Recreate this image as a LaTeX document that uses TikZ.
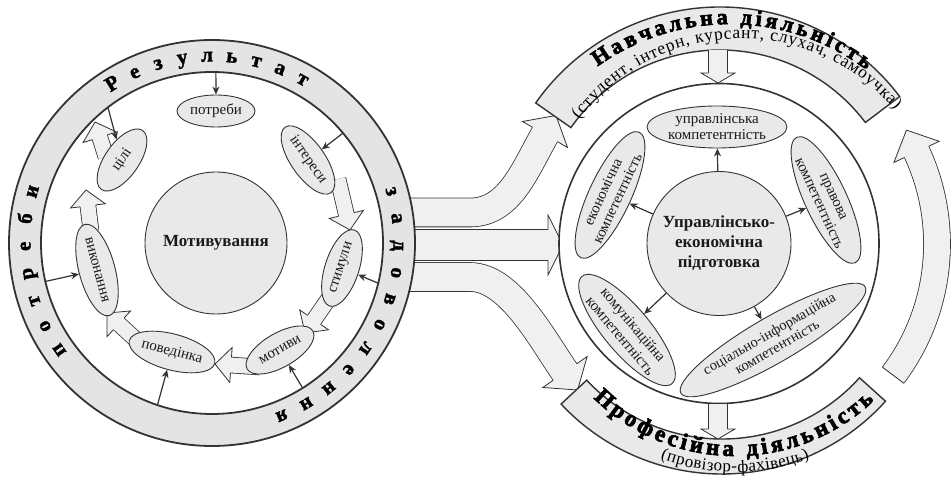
\documentclass[tikz,border=0pt]{standalone}
\usepackage{fontspec}
\setmainfont{Liberation Serif}
\newfontfamily\heavyfont{Liberation Serif}[BoldFeatures={FakeBold=1.6}]
\newfontfamily\blackfont{Liberation Serif}[BoldFeatures={FakeBold=3}]
\usetikzlibrary{shapes.geometric,arrows.meta,calc,decorations.text}
\definecolor{lineC}{HTML}{333333}
\definecolor{fillC}{HTML}{E9E9E9}
\definecolor{ringC}{HTML}{E4E4E4}
\definecolor{arrC}{HTML}{F0F0F0}
\definecolor{txtC}{HTML}{1A1A1A}
\newcommand\hollowhead[4]{%
  \fill[arrC] ($(#1)!#4!90:(#2)$) -- (#2) -- ($(#1)!#4!-90:(#2)$) -- cycle;
  \draw[aline] ($(#1)!#3!90:(#2)$) -- ($(#1)!#4!90:(#2)$) -- (#2) -- ($(#1)!#4!-90:(#2)$) -- ($(#1)!#3!-90:(#2)$);}
\newcommand\hollowarrow[6]{%
  \coordinate (hb) at ($(#2)!#3!(#1)$);
  \coordinate (hc) at ($(hb)!0.8pt!(#2)$);
  \draw[aline, double=arrC, double distance=#4] (#1) -- (hc);
  \hollowhead{hb}{#2}{#5}{#6}}
\begin{document}
\begin{tikzpicture}[x=1pt,y=1pt,
  aline/.style={draw=lineC, line width=0.8pt, line join=miter},
  oval/.style={ellipse, draw=lineC, fill=fillC, line width=0.9pt, inner sep=0pt, text=txtC, align=center, font=\fontsize{15}{16}\selectfont},
  thinarr/.style={draw=lineC, line width=1.2pt, -{Stealth[length=8pt,width=7pt]}},
  ringl/.style={anchor=base, inner sep=0pt, text=black, font=\fontsize{21}{21}\selectfont\heavyfont\bfseries},
  band/.style={draw=lineC, fill=fillC, line width=1.4pt},
]
\useasboundingbox (0,0) rectangle (952,479);
\fill[white] (0,0) rectangle (952,479);

\coordinate (L) at (212,236);
\coordinate (R) at (719,235.5);
\coordinate (TB) at (720,247);
\coordinate (BB) at (722,225);
\coordinate (TT) at (729.6,227.9);
\coordinate (TS) at (740.8,239.6);
\coordinate (BT) at (735,225);

% ---- big arrows from left to right
\coordinate (a1s) at (400,266.5);
\coordinate (a1m) at (470,266.5);
\coordinate (a1b) at (545,344.5);
\coordinate (a1t) at ($(a1b)+(60:22pt)$);
\draw[aline, double=arrC, double distance=28pt] (a1s) -- (a1m) .. controls (510,266.5) and ($(a1b)+(240:40pt)$) .. ($(a1b)+(60:0.8pt)$);
\hollowhead{a1b}{a1t}{14.4pt}{26pt}

\coordinate (a2s) at (400,234);
\coordinate (a2t) at (563,234);
\hollowarrow{a2s}{a2t}{15pt}{30pt}{15.4pt}{30pt}

\coordinate (a3s) at (400,202);
\coordinate (a3m) at (470,202);
\coordinate (a3b) at (565,107);
\coordinate (a3t) at ($(a3b)+(-55:22pt)$);
\draw[aline, double=arrC, double distance=28pt] (a3s) -- (a3m) .. controls (510,202) and ($(a3b)+(125:40pt)$) .. ($(a3b)+(-55:0.8pt)$);
\hollowhead{a3b}{a3t}{14.4pt}{27pt}

% ---- left circle
\node[circle, draw=lineC, fill=ringC, line width=1.8pt, minimum size=406pt, inner sep=0pt] (Lout) at (L) {};
\node[circle, draw=lineC, fill=white, line width=1.8pt, minimum size=342pt, inner sep=0pt] (Lin) at (L) {};
\node[circle, draw=lineC, fill=fillC, line width=0.9pt, minimum size=142pt, inner sep=0pt, font=\fontsize{17}{17}\selectfont\bfseries, text=txtC] (Lmid) at (216,236) {Мотивування};

\foreach \ch [count=\i from 0] in {Р,е,з,у,л,ь,т,а,т}{
  \pgfmathsetmacro\ang{122-7.625*\i}
  \node[ringl, rotate=\ang-90] (rw\i) at ($(L)+(\ang:181.5pt)$) {\ch};}
\foreach \ch [count=\i from 0] in {з,а,д,о,в,о,л,е,н,н,я}{
  \pgfmathsetmacro\ang{16-8.4*\i}
  \node[ringl, rotate=\ang-90] (zw\i) at ($(L)+(\ang:181.5pt)$) {\ch};}
\foreach \ch [count=\i from 0] in {п,о,т,р,е,б,и}{
  \pgfmathsetmacro\ang{215-8.5*\i}
  \node[ringl, rotate=\ang-90] (pw\i) at ($(L)+(\ang:181.5pt)$) {\ch};}

% small hollow arrows of the cycle
\coordinate (s1a) at (338,300); \coordinate (s1b) at (350,249);
\hollowarrow{s1a}{s1b}{16pt}{15pt}{7.9pt}{17.5pt}
\coordinate (s2a) at (334,188); \coordinate (s2b) at (305,146);
\hollowarrow{s2a}{s2b}{16pt}{15pt}{7.9pt}{17.5pt}
\coordinate (s3a) at (260,112); \coordinate (s3b) at (215,115);
\hollowarrow{s3a}{s3b}{16pt}{15pt}{7.9pt}{17.5pt}
\coordinate (s4a) at (145,131); \coordinate (s4b) at (107,166);
\hollowarrow{s4a}{s4b}{16pt}{15pt}{7.9pt}{17.5pt}
\coordinate (s5a) at (91,248); \coordinate (s5b) at (86,289);
\hollowarrow{s5a}{s5b}{16pt}{15pt}{7.9pt}{17.5pt}
\coordinate (s6a) at (106,322); \coordinate (s6b) at (95,357);
\hollowarrow{s6a}{s6b}{16pt}{15pt}{7.9pt}{17.5pt}

\node[oval, minimum width=78pt, minimum height=32pt] (pot) at (216,368) {потреби};
\node[oval, minimum width=80pt, minimum height=34pt, rotate=-55] (int) at (308,319) {інтереси};
\node[oval, minimum width=80pt, minimum height=34pt, rotate=72] (stim) at (342,211) {стимули};
\node[oval, minimum width=76pt, minimum height=34pt, rotate=30] (mot) at (280,129) {мотиви};
\node[oval, minimum width=88pt, minimum height=36pt, rotate=-15] (pov) at (172,127) {поведінка};
\node[oval, minimum width=90pt, minimum height=36pt, rotate=-75] (vyk) at (97,209) {виконання};
\node[oval, minimum width=72pt, minimum height=34pt, rotate=55] (cil) at (122,319) {цілі};

\foreach \nm/\ang in {pot/88.7, cil/127.5, int/40, stim/-13.6, mot/-58, pov/-108.6, vyk/193}{
  \coordinate (rg-\nm) at ($(L)+(\ang:171pt)$);
  \draw[thinarr] (rg-\nm) -- (\nm);}

% ---- right side
\draw[band] ($(TB)+(37:225pt)$) arc[start angle=37, end angle=145, radius=225pt] -- ($(TB)+(145:182pt)$) arc[start angle=145, end angle=37, radius=182pt] -- cycle;
\draw[band] ($(BB)+(223:220pt)$) arc[start angle=223, end angle=318, radius=220pt] -- ($(BB)+(318:185pt)$) arc[start angle=318, end angle=223, radius=185pt] -- cycle;

\coordinate (RA) at (719,235);
\coordinate (ra0) at ($(RA)+(-37:218pt)$);
\coordinate (rab) at ($(RA)+(25:218pt)$);
\coordinate (rat) at ($(rab)+(115:24pt)$);
\draw[aline, double=arrC, double distance=26pt] (ra0) arc[start angle=-37, end angle=25.3, radius=218pt];
\draw[aline] ($(ra0)+(-37:13.4pt)$) -- ($(ra0)+(143:13.4pt)$);
\hollowhead{rab}{rat}{13.4pt}{25pt}

\node[circle, draw=lineC, fill=white, line width=1.6pt, minimum size=320pt, inner sep=0pt] (Rc) at (R) {};
\node[circle, draw=lineC, fill=fillC, line width=0.9pt, minimum size=144pt, inner sep=0pt, align=center, font=\fontsize{17}{20}\selectfont\bfseries, text=txtC] (Rmid) at (R) {Управлінсько-\\економічна\\підготовка};

\coordinate (ta0) at (718,429); \coordinate (ta1) at (718,396);
\hollowarrow{ta0}{ta1}{10pt}{18pt}{9.4pt}{17pt}
\coordinate (ba0) at (718,75); \coordinate (ba1) at (718,40);
\hollowarrow{ba0}{ba1}{10pt}{18pt}{9.4pt}{17pt}

\node[oval, minimum width=140pt, minimum height=42pt] (e1) at (717,352) {управлінська\\компетентність};
\node[oval, minimum width=130pt, minimum height=42pt, rotate=65] (e2) at (610,284) {економічна\\компетентність};
\node[oval, minimum width=130pt, minimum height=42pt, rotate=-65] (e3) at (826,279) {правова\\компетентність};
\node[oval, minimum width=140pt, minimum height=46pt, rotate=-50, font=\fontsize{15}{17}\selectfont] (e4) at (627,149) {комунікаційна\\компетентність};
\node[oval, minimum width=178pt, minimum height=46pt, rotate=30, font=\fontsize{14.5}{15.5}\selectfont] (e5) at (773,139) {соціально-інформаційна\\компетентність};

\foreach \e in {e1,e2,e3,e4,e5} \draw[thinarr] (Rmid) -- (\e);

\path[decorate, decoration={text along path, text={|\fontsize{22}{22}\selectfont\blackfont\bfseries|Навчальна діяльність}, text align={fit to path}}] ($(TT)+(125.6:227pt)$) arc[start angle=125.6, end angle=53, radius=227pt];
\path[decorate, decoration={text along path, text={|\fontsize{17.5}{18}\selectfont|(студент, інтерн, курсант, слухач, самоучка)}, text align={fit to path}}] ($(TS)+(143.5:201pt)$) arc[start angle=143.5, end angle=40, radius=201pt];
\path[decorate, decoration={text along path, text={|\fontsize{23}{23}\selectfont\blackfont\bfseries|Професійна діяльність}, text align={fit to path}}] ($(BT)+(225.5:202pt)$) arc[start angle=225.5, end angle=313.5, radius=202pt];
\path[decorate, decoration={text along path, text={|\fontsize{17}{18}\selectfont|(провізор-фахівець)}, text align={fit to path}}] ($(BT)+(250:218pt)$) arc[start angle=250, end angle=290, radius=218pt];
\end{tikzpicture}
\end{document}
